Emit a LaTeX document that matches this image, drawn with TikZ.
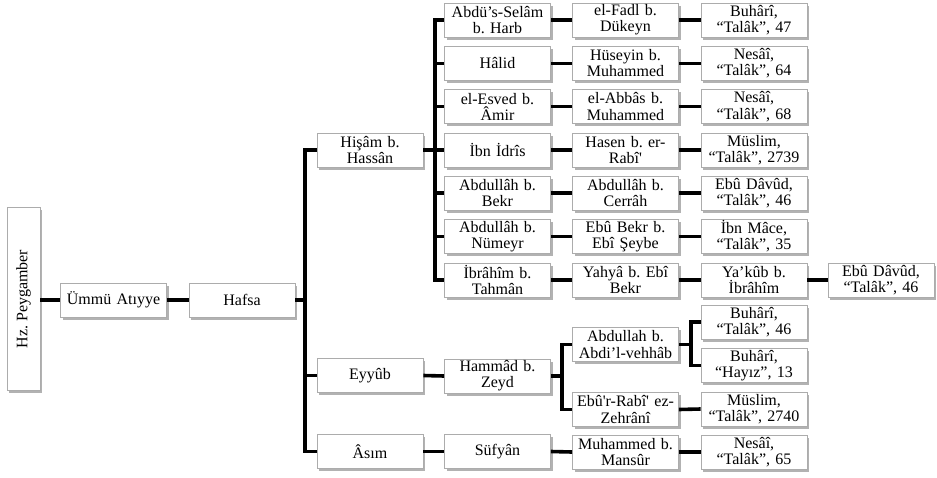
\documentclass[tikz,border=0pt]{standalone}
\usepackage{fontspec}
\setmainfont{Liberation Serif}
\usetikzlibrary{shadows}
\begin{document}
\frenchspacing
\begin{tikzpicture}[x=1pt,y=-1pt,
  box/.style={draw=gray!65, line width=0.7pt, fill=white, minimum width=106pt, minimum height=34pt,
    text width=104pt, align=center, inner sep=0.5pt,
    font=\fontsize{16}{16.2}\selectfont,
    drop shadow={shadow xshift=2pt, shadow yshift=-2.5pt, opacity=0.3, fill=black}},
  conn/.style={line width=3.6pt, draw=black}]
\useasboundingbox (0,0) rectangle (937,477);
% column 0/1
\node[box, minimum width=33pt, text width=30pt, minimum height=183pt] (hz) at (23.5,299) {};
\node[rotate=90, font=\fontsize{16}{16.2}\selectfont] (hzt) at (hz.center) {Hz. Peygamber};
\node[box] (umm) at (113.5,300) {Ümmü Atıyye};
\node[box] (hafsa) at (242,300) {Hafsa};
% column 2
\node[box] (hisam) at (370,150) {Hişâm b.\\ Hassân};
\node[box] (eyyub) at (370,375.5) {Eyyûb};
\node[box] (asim) at (370,451.5) {Âsım};
% column 3
\node[box] (c3a) at (497.5,20) {Abdü’s-Selâm\\ b. Harb};
\node[box] (c3b) at (497.5,63.3) {Hâlid};
\node[box] (c3c) at (497.5,106.6) {el-Esved b.\\ Âmir};
\node[box] (c3d) at (497.5,150) {İbn İdrîs};
\node[box] (c3e) at (497.5,193.2) {Abdullâh b.\\ Bekr};
\node[box] (c3f) at (497.5,236.5) {Abdullâh b.\\ Nümeyr};
\node[box] (c3g) at (497.5,280) {İbrâhîm b.\\ Tahmân};
\node[box] (hammad) at (497.5,376) {Hammâd b.\\ Zeyd};
\node[box] (sufyan) at (497.5,451.5) {Süfyân};
% column 4
\node[box] (c4a) at (625.5,20) {el-Fadl b.\\ Dükeyn};
\node[box] (c4b) at (625.5,63.3) {Hüseyin b.\\ Muhammed};
\node[box] (c4c) at (625.5,106.6) {el-Abbâs b.\\ Muhammed};
\node[box] (c4d) at (625.5,150) {Hasen b. er-\\ Rabî\textquotesingle};
\node[box] (c4e) at (625.5,193.2) {Abdullâh b.\\ Cerrâh};
\node[box] (c4f) at (625.5,236.5) {Ebû Bekr b.\\ Ebî Şeybe};
\node[box] (c4g) at (625.5,280) {Yahyâ b. Ebî\\ Bekr};
\node[box] (abd) at (625.5,344.5) {Abdullah b.\\ Abdi’l-vehhâb};
\node[box] (ebur) at (625.5,409.5) {Ebû\textquotesingle r-Rabî\textquotesingle{} ez-\\ Zehrânî};
\node[box] (mans) at (625.5,452) {Muhammed b.\\ Mansûr};
% column 5
\node[box] (c5a) at (754,20) {Buhârî,\\ “Talâk”, 47};
\node[box] (c5b) at (754,63.3) {Nesâî,\\ “Talâk”, 64};
\node[box] (c5c) at (754,106.6) {Nesâî,\\ “Talâk”, 68};
\node[box] (c5d) at (754,150) {Müslim,\\ “Talâk”, 2739};
\node[box] (c5e) at (754,193.2) {Ebû Dâvûd,\\ “Talâk”, 46};
\node[box] (c5f) at (754,236.5) {İbn Mâce,\\ “Talâk”, 35};
\node[box] (c5g) at (754,280) {Ya’kûb b.\\ İbrâhîm};
\node[box] (buh46) at (754,322) {Buhârî,\\ “Talâk”, 46};
\node[box] (hayiz) at (754,365.5) {Buhârî,\\ “Hayız”, 13};
\node[box] (mus40) at (754,409) {Müslim,\\ “Talâk”, 2740};
\node[box] (nes65) at (754,452) {Nesâî,\\ “Talâk”, 65};
% column 6
\node[box] (c6g) at (881,280) {Ebû Dâvûd,\\ “Talâk”, 46};
% junction coordinates
\coordinate (j1) at (305,300);
\coordinate (j2) at (435,150);
\coordinate (j3) at (562,376);
\coordinate (j4) at (691,344.5);
% connectors
\draw[conn] (hz.east |- umm.west) -- (umm.west);
\draw[conn] (umm) -- (hafsa);
\draw[conn] (hafsa.east) -- (j1);
\draw[conn] (hisam.west) -| (j1) |- (asim.west);
\draw[conn] (eyyub.west) -- (eyyub.west -| j1);
\draw[conn] (hisam.east) -- (j2);
\draw[conn] (c3a.west) -| (j2) |- (c3g.west);
\foreach \n in {c3b,c3c,c3d,c3e,c3f} \draw[conn] (\n.west) -- (\n.west -| j2);
\foreach \a/\b in {c3a/c4a,c3b/c4b,c3c/c4c,c3d/c4d,c3e/c4e,c3f/c4f,c3g/c4g,
  c4a/c5a,c4b/c5b,c4c/c5c,c4d/c5d,c4e/c5e,c4f/c5f,c4g/c5g,c5g/c6g,
  eyyub/hammad,asim/sufyan,sufyan/mans,mans/nes65,ebur/mus40}
  \draw[conn] (\a.east) -- (\b.west);
\draw[conn] (hammad.east) -- (j3);
\draw[conn] (abd.west) -| (j3) |- (ebur.west);
\draw[conn] (abd.east) -- (j4);
\draw[conn] (buh46.west) -| (j4) |- (hayiz.west);
\end{tikzpicture}
\end{document}
